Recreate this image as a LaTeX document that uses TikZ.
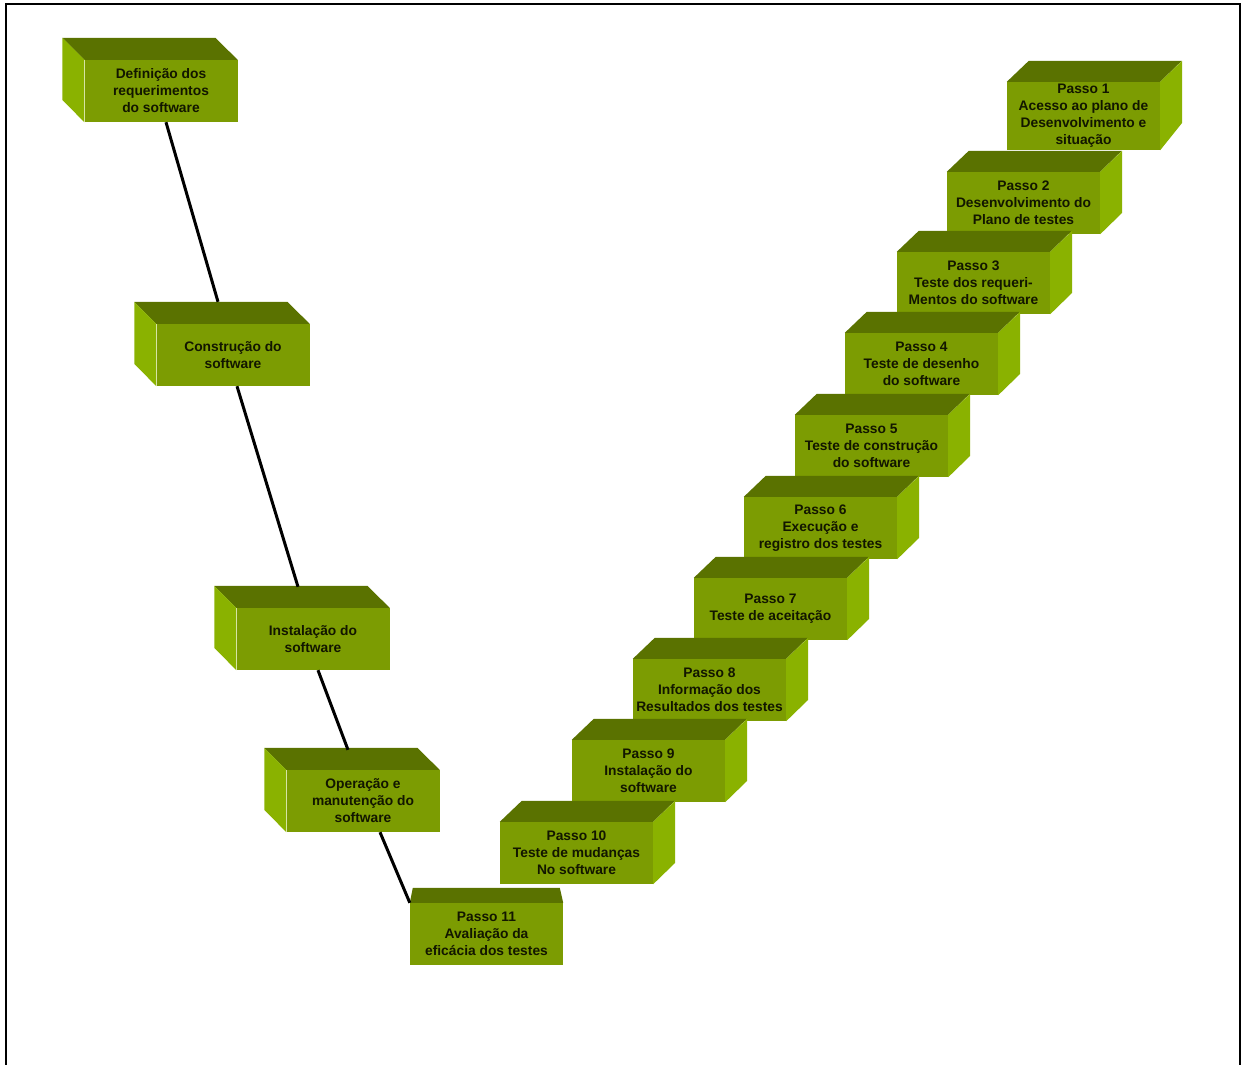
\documentclass[tikz,border=0pt]{standalone}
\usepackage{fontspec}
\setmainfont{Liberation Sans}
\usetikzlibrary{positioning}

\definecolor{frontc}{RGB}{124,156,2}
\definecolor{topc}{RGB}{90,114,0}
\definecolor{sidec}{RGB}{138,178,0}
\definecolor{txtc}{RGB}{18,22,0}

\tikzset{
  blk/.style={fill=frontc, minimum width=153, minimum height=62, inner sep=0,
    align=center, text=txtc, font=\bfseries\fontsize{13.8}{17}\selectfont},
  % boxes on the left branch show their left face
  boxL/.style={blk, append after command={\pgfextra{
    \fill[topc] (\tikzlastnode.north west) -- ++(-22,-22) -- ++(153,0) -- (\tikzlastnode.north east) -- cycle;
    \fill[sidec] (\tikzlastnode.north west) -- ++(-22,-22) -- ++(0,62) -- (\tikzlastnode.south west) -- cycle;}}},
  % steps on the right show their right face
  boxR/.style={blk, append after command={\pgfextra{
    \fill[topc] (\tikzlastnode.north west) -- ++(22,-21) -- ++(153,0) -- (\tikzlastnode.north east) -- cycle;
    \fill[sidec] (\tikzlastnode.north east) -- ++(22,-21) -- ++(0,62) -- (\tikzlastnode.south east) -- cycle;}}},
  boxF/.style={blk, append after command={\pgfextra{
    \fill[topc] (\tikzlastnode.north west) -- ++(3,-15) -- ++(147,0) -- (\tikzlastnode.north east) -- cycle;}}},
  link/.style={line width=3pt, black}
}

\begin{document}
\begin{tikzpicture}[x=1pt, y=-1pt]
  \useasboundingbox (0,0) rectangle (1243,1065);
  \draw[line width=2pt] (6,1065) -- (6,4) -- (1240,4) -- (1240,1065);

  % left branch
  \node[boxL] (defn) at (161,91) {Definição dos\\requerimentos\\do software};
  \node[boxL] (constr) at (233,355) {Construção do\\software};
  \node[boxL] (inst) at (313,639) {Instalação do\\software};
  \node[boxL] (oper) at (363,801) {Operação e\\manutenção do\\software};

  % right branch
  \node[boxR, minimum height=68] (p1) at (1083.5,116) {Passo 1\\Acesso ao plano de\\Desenvolvimento e\\situação};
  \node[boxR] (p2) at (1023.5,203) {Passo 2\\Desenvolvimento do\\Plano de testes};
  \node[boxR] (p3) at (973.5,283) {Passo 3\\Teste dos requeri-\\Mentos do software};
  \node[boxR] (p4) at (921.5,364) {Passo 4\\Teste de desenho\\do software};
  \node[boxR] (p5) at (871.5,446) {Passo 5\\Teste de construção\\do software};
  \node[boxR] (p6) at (820.5,528) {Passo 6\\Execução e\\registro dos testes};
  \node[boxR] (p7) at (770.5,609) {Passo 7\\Teste de aceitação};
  \node[boxR] (p8) at (709.5,690) {Passo 8\\Informação dos\\Resultados dos testes};
  \node[boxR] (p9) at (648.5,771) {Passo 9\\Instalação do\\software};
  \node[boxR] (p10) at (576.5,853) {Passo 10\\Teste de mudanças\\No software};
  \node[boxF] (p11) at (486.5,934) {Passo 11\\Avaliação da\\eficácia dos testes};

  \draw[link] ([xshift=5]defn.south) -- ([shift={(-15,-22)}]constr.north);
  \draw[link] ([xshift=4]constr.south) -- ([shift={(-15,-21)}]inst.north);
  \draw[link] ([xshift=5]inst.south) -- ([shift={(-15,-20)}]oper.north);
  \draw[link] ([xshift=17]oper.south) -- (p11.north west);
\end{tikzpicture}
\end{document}
